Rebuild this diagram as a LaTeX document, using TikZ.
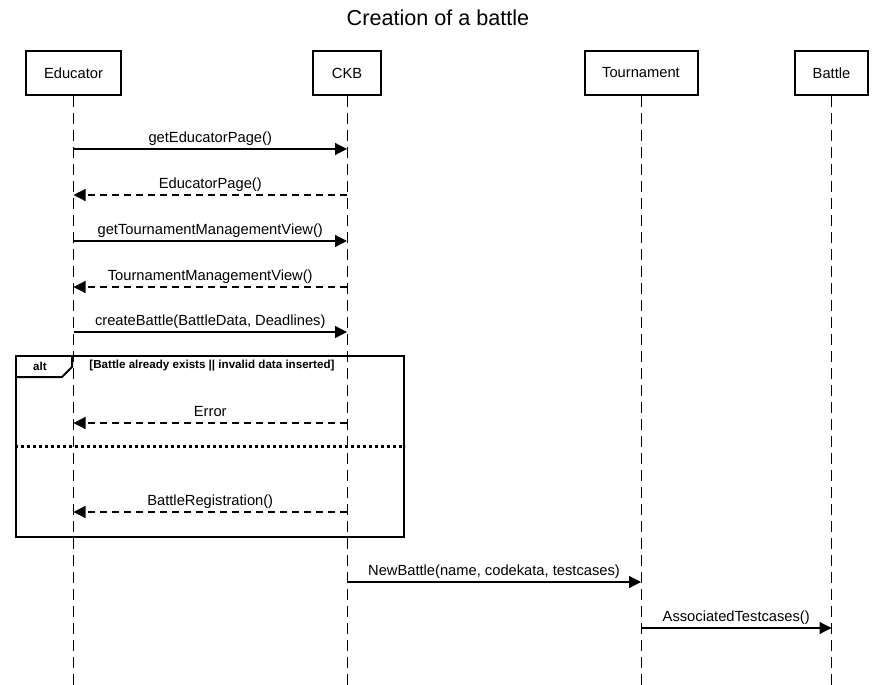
\documentclass[tikz,border=0pt]{standalone}
\usepackage{fontspec}
\setmainfont{Liberation Sans}
\usetikzlibrary{arrows.meta}
\tikzset{
  actor/.style={draw, line width=2pt, minimum height=44pt, inner sep=0pt,
    font=\fontsize{14.7}{17}\selectfont},
  lifeline/.style={line width=1pt, dash pattern=on 11pt off 6pt},
  msg/.style={line width=1.2pt, -{Triangle[length=12pt,width=12pt]}},
  reply/.style={msg, dash pattern=on 7pt off 5pt},
  msglabel/.style={midway, above, inner sep=2.5pt, text depth=3.5pt,
    font=\fontsize{14.7}{17}\selectfont},
  guard/.style={font=\bfseries\fontsize{11.6}{13}\selectfont, inner sep=0pt}
}
\begin{document}
\begin{tikzpicture}[x=1pt, y=-1pt]
      \useasboundingbox (0,0) rectangle (876,685);
      \node[font=\fontsize{21.6}{24}\selectfont] (title) at (438,18) {Creation of a battle};
      \draw
        (73.5,73) node[actor, minimum width=95pt] (educator){Educator}
        (347,73) node[actor, minimum width=68pt] (ckb){CKB}
        (641,73) node[actor, minimum width=113pt] (tournament){Tournament}
        (831.5,73) node[actor, minimum width=73pt] (battle){Battle};
      \coordinate (educatorend) at (73.5,685);
      \coordinate (ckbend) at (347,685);
      \coordinate (tournamentend) at (641,685);
      \coordinate (battleend) at (831.5,685);
      \begin{scope}[lifeline]
        \draw (educator) -- (educatorend);
        \draw (ckb) -- (ckbend);
        \draw (tournament) -- (tournamentend);
        \draw (battle) -- (battleend);
      \end{scope}
      % alt fragment
      \node[draw, line width=2pt, minimum width=388pt, minimum height=181pt] (altframe) at (210,446.5) {};
      \draw[line width=2pt] (16,377) -- (62,377) -- (72,367) -- (72,356);
      \node[guard] (altlabel) at (40,366) {alt};
      \node[guard] (altguard) at (212,366) {[Battle already exists || invalid data inserted]};
      \draw[line width=2.2pt, dash pattern=on 3pt off 3pt] (altframe.west) -- (altframe.east);
      \begin{scope}
        \draw[msg] (educator |- 0,149) -- (ckb |- 0,149) node[msglabel]{getEducatorPage()};
        \draw[reply] (ckb |- 0,195) -- (educator |- 0,195) node[msglabel]{EducatorPage()};
        \draw[msg] (educator |- 0,241) -- (ckb |- 0,241) node[msglabel]{getTournamentManagementView()};
        \draw[reply] (ckb |- 0,287) -- (educator |- 0,287) node[msglabel]{TournamentManagementView()};
        \draw[msg] (educator |- 0,332) -- (ckb |- 0,332) node[msglabel]{createBattle(BattleData, Deadlines)};
        \draw[reply] (ckb |- 0,423) -- (educator |- 0,423) node[msglabel]{Error};
        \draw[reply] (ckb |- 0,512) -- (educator |- 0,512) node[msglabel]{BattleRegistration()};
        \draw[msg] (ckb |- 0,582) -- (tournament |- 0,582) node[msglabel]{NewBattle(name, codekata, testcases)};
        \draw[msg] (tournament |- 0,628) -- (battle |- 0,628) node[msglabel]{AssociatedTestcases()};
      \end{scope}
    \end{tikzpicture}
\end{document}
